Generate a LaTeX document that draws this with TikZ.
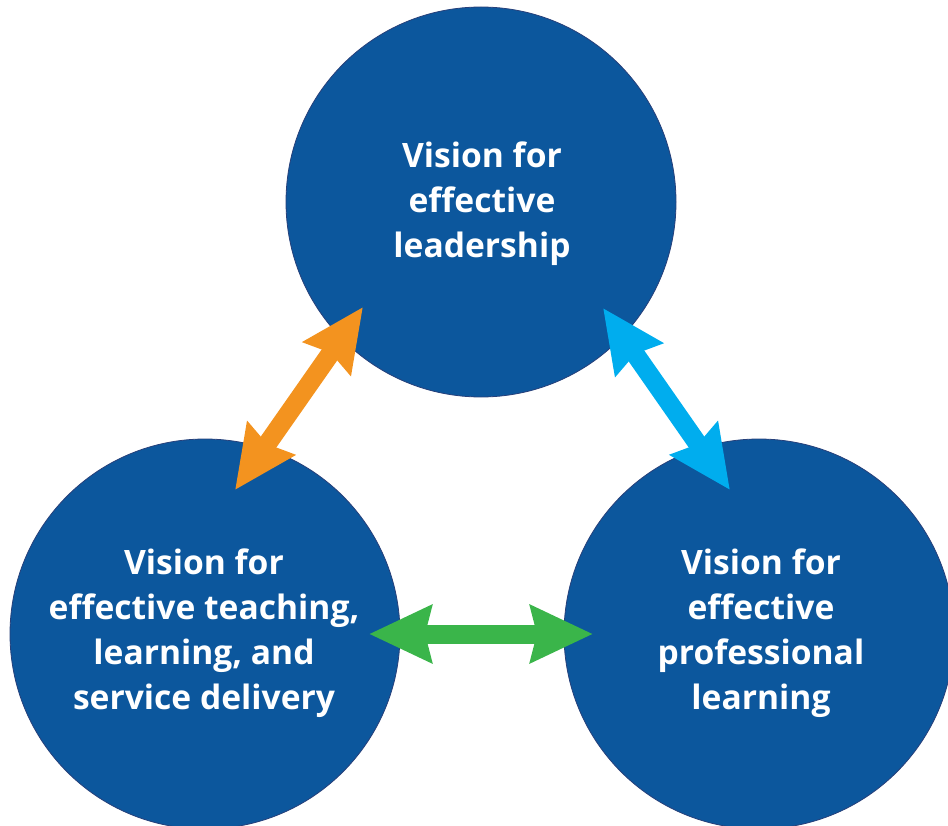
\documentclass[tikz,border=0pt]{standalone}
\usepackage{fontspec}
\setmainfont{Open Sans}
\usetikzlibrary{arrows.meta}
\definecolor{circblue}{HTML}{0C579D}
\definecolor{circedge}{HTML}{27407A}
\definecolor{arrorange}{HTML}{F3931F}
\definecolor{arrcyan}{HTML}{00ADEE}
\definecolor{arrgreen}{HTML}{3AB54A}
\tikzset{
  vision/.style={circle, fill=circblue, draw=circedge, line width=0.8pt, minimum size=390pt, inner sep=0pt},
  vtext/.style={text=white, align=center, inner sep=0pt, font=\fontsize{33.6}{45}\selectfont\bfseries},
  dbl/.style={line width=19pt, {Stealth[length=62pt,width=56pt,inset=6pt]}-{Stealth[length=62pt,width=56pt,inset=6pt]}}
}
\begin{document}
\begin{tikzpicture}[x=1pt,y=-1pt]
\useasboundingbox (0,0) rectangle (948,826);
\clip (0,0) rectangle (948,826);
\node[vision] (top) at (481,202) {};
\node[vision] (left) at (205,634) {};
\node[vision] (right) at (759,634) {};
\node[vtext] (toptext) at (482,204) {Vision for\\effective\\leadership};
\node[vtext] (lefttext) at (204,633) {Vision for\\effective teaching,\\learning, and\\service delivery};
\node[vtext] (righttext) at (761,633) {Vision for\\effective\\professional\\learning};
\coordinate (o1) at (235,490);
\coordinate (o2) at (363,307);
\coordinate (b1) at (603,308);
\coordinate (b2) at (730,490);
\coordinate (g1) at (369,634);
\coordinate (g2) at (593,634);
\draw[dbl, draw=arrorange, fill=arrorange] (o1) -- (o2);
\draw[dbl, draw=arrcyan, fill=arrcyan] (b1) -- (b2);
\draw[dbl, draw=arrgreen, fill=arrgreen] (g1) -- (g2);
\end{tikzpicture}
\end{document}
